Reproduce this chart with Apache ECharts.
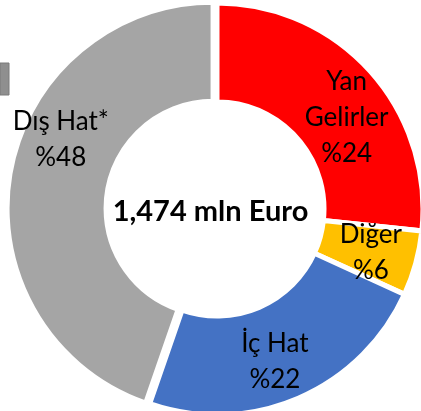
<!DOCTYPE html>
<html>
<head>
<meta charset="utf-8">
<style>
html,body{margin:0;padding:0;background:#fff;}
#main{width:421px;height:411px;}
</style>
</head>
<body>
<div id="main"></div>
<script src="https://cdn.jsdelivr.net/npm/echarts@6/dist/echarts.min.js"></script>
<script type="text/javascript">
// kategoriler (saat yönünde, tepeden başlayarak)
var categories = ['Yan\nGelirler', 'Diğer', 'İç Hat', 'Dış Hat*'];
// dilim büyüklükleri, halkadaki açılardan okundu
var sliceValues = [26.7, 5.1, 23.5, 44.7];
// etiketlerde yazan yüzdeler
var labelPct = [24, 6, 22, 48];
var colors = ['#FF0000', '#FFC000', '#4472C4', '#A5A5A5'];
var totalText = '1,474 mln Euro';
// etiketlerin halka ortasından kaydırılması
var labelShift = [[11, 15], [0, 2], [-5, 6], [5, -42]];

var myChart = echarts.init(document.getElementById('main'));

var pieData = categories.map(function (name, i) {
    var item = {
        name: name,
        value: sliceValues[i],
        itemStyle: { color: colors[i] }
    };
    if (i === 3) item.selected = true;
    return item;
});

var option = {
    animation: false,
    title: {
        text: totalText,
        left: 'center',
        top: 192,
        textStyle: {
            fontFamily: 'Lato',
            fontWeight: 'bold',
            fontSize: 29,
            color: '#000'
        }
    },
    graphic: [{
        type: 'rect',
        shape: { x: 0, y: 63, width: 9, height: 32 },
        style: { fill: '#8f8f8f', stroke: '#7a7a7a', lineWidth: 1 }
    }],
    series: [{
        type: 'pie',
        center: [217, 209],
        radius: [107, 206],
        startAngle: 90,
        clockwise: true,
        selectedMode: 'single',
        selectedOffset: 4,
        itemStyle: { borderColor: '#fff', borderWidth: 5 },
        select: { itemStyle: { borderColor: '#fff', borderWidth: 5 } },
        emphasis: { disabled: true },
        label: {
            show: true,
            position: 'inside',
            fontFamily: 'Lato',
            fontSize: 26,
            lineHeight: 36,
            color: '#000',
            formatter: function (p) {
                return p.name + '\n%' + labelPct[p.dataIndex];
            }
        },
        labelLayout: function (p) {
            return { dx: labelShift[p.dataIndex][0], dy: labelShift[p.dataIndex][1] };
        },
        labelLine: { show: false },
        data: pieData
    }]
};
myChart.setOption(option);
</script>
</body>
</html>
